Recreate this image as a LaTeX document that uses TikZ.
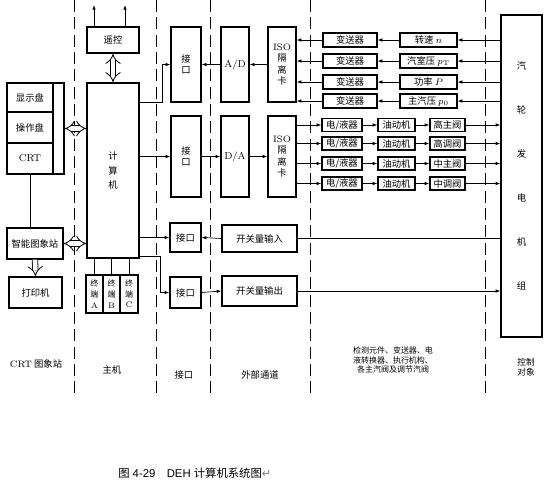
\documentclass[tikz,border=0pt]{standalone}
\usepackage{fontspec}
\setsansfont{Liberation Sans}
\newfontfamily\cjk{Noto Sans CJK SC}
\newfontfamily\symfont{DejaVu Sans}
\usetikzlibrary{arrows.meta,calc}

\tikzset{
  blk/.style={draw, line width=1pt, inner sep=0pt, align=center, font=\cjk\fontsize{7}{8.5}\selectfont},
  sz/.style 2 args={minimum width=#1*0.75pt, minimum height=#2*0.75pt},
  lnk/.style={line width=0.5pt, -{Latex[length=3.5pt,width=2.6pt]}},
  wire/.style={line width=0.5pt},
  zone/.style={line width=0.5pt, dash pattern=on 9pt off 4pt},
  dbl/.style={double, double distance=3.5pt, line width=0.6pt, {Implies}-{Implies}},
  lbl/.style={font=\cjk\fontsize{7}{8.5}\selectfont, align=center},
}

\begin{document}
\begin{tikzpicture}[x=0.75pt, y=-0.75pt]
\useasboundingbox (0,0) rectangle (544,480);

% zone borders
\foreach \x in {74,156,210,310,485}
  \draw[zone] (\x,0) -- (\x,397);

% CRT station
\node[blk, sz={57}{91}] (panel) at (35.5,128.5) {};
\node[blk, sz={46}{29}] (dsp) at (30,97.5) {显示盘};
\node[blk, sz={46}{31}] (opr) at (30,127.5) {操作盘};
\node[blk, sz={46}{31}, font=\rmfamily\fontsize{7.5}{9}\selectfont] (crt) at (30,158.5) {CRT};
\node[blk, sz={56}{31}] (station) at (35,243.5) {智能图象站};
\node[blk, sz={53}{31}] (printer) at (35.5,292.5) {打印机};

% host
\node[blk, sz={52}{26}] (remote) at (113,40) {遥控};
\node[blk, sz={52}{175}, font=\cjk\fontsize{7}{11}\selectfont] (comp) at (113,170.5) {计\\算\\机};
\node[blk, sz={17}{38}, font=\cjk\fontsize{6}{8}\selectfont] (termA) at (94.5,294) {终\\端\\{\rmfamily A}};
\node[blk, sz={17}{38}, font=\cjk\fontsize{6}{8}\selectfont] (termB) at (111.5,294) {终\\端\\{\rmfamily B}};
\node[blk, sz={18}{38}, font=\cjk\fontsize{6}{8}\selectfont] (termC) at (129,294) {终\\端\\{\rmfamily C}};

% interfaces
\node[blk, sz={30}{75}] (ifA) at (186,64.5) {接\\口};
\node[blk, sz={30}{81}] (ifB) at (186,156.5) {接\\口};
\node[blk, sz={31}{29}] (ifC) at (185.5,237.5) {接口};
\node[blk, sz={31}{31}] (ifD) at (185.5,292.5) {接口};

% external channels
\node[blk, sz={28}{75}, font=\rmfamily\fontsize{7.5}{9}\selectfont] (ad) at (235,64.5) {A/D};
\node[blk, sz={28}{81}, font=\rmfamily\fontsize{7.5}{9}\selectfont] (da) at (235,156.5) {D/A};
\node[blk, sz={28}{75}, font=\cjk\fontsize{7}{8.5}\selectfont] (isoA) at (282,64.5) {{\rmfamily ISO}\\隔\\离\\卡};
\node[blk, sz={28}{81}, font=\cjk\fontsize{7}{8.5}\selectfont] (isoB) at (282,156.5) {{\rmfamily ISO}\\隔\\离\\卡};
\node[blk, sz={75}{27}] (swin) at (259.5,238.5) {开关量输入};
\node[blk, sz={75}{30}] (swout) at (259.5,291) {开关量输出};

% transmitters and sensors
\node[blk, sz={54}{14}] (tx1) at (350,40) {变送器};
\node[blk, sz={54}{14}] (tx2) at (350,61) {变送器};
\node[blk, sz={54}{14}] (tx3) at (350,82) {变送器};
\node[blk, sz={54}{14}] (tx4) at (350,101) {变送器};
\node[blk, sz={57}{14}] (sn1) at (428.5,40) {转速 $n$};
\node[blk, sz={57}{14}] (sn2) at (428.5,61) {汽室压 $p_{\mathrm{T}}$};
\node[blk, sz={57}{14}] (sn3) at (428.5,82) {功率 $P$};
\node[blk, sz={57}{14}] (sn4) at (428.5,101) {主汽压 $p_0$};

% actuators
\node[blk, sz={40}{13}] (ev1) at (342,125) {电/液器};
\node[blk, sz={40}{13}] (ev2) at (342,143.5) {电/液器};
\node[blk, sz={40}{13}] (ev3) at (342,163.5) {电/液器};
\node[blk, sz={40}{13}] (ev4) at (342,183.5) {电/液器};
\node[blk, sz={37}{13}] (om1) at (396.5,125) {油动机};
\node[blk, sz={37}{13}] (om2) at (396.5,143.5) {油动机};
\node[blk, sz={37}{13}] (om3) at (396.5,163.5) {油动机};
\node[blk, sz={37}{13}] (om4) at (396.5,183.5) {油动机};
\node[blk, sz={35}{13}] (vl1) at (447.5,125) {高主阀};
\node[blk, sz={35}{13}] (vl2) at (447.5,143.5) {高调阀};
\node[blk, sz={35}{13}] (vl3) at (447.5,163.5) {中主阀};
\node[blk, sz={35}{13}] (vl4) at (447.5,183.5) {中调阀};

% plant
\node[blk, sz={41}{322}, font=\cjk\fontsize{7}{33}\selectfont] (turb) at (521.5,176) {汽\\轮\\发\\电\\机\\组};

% host connections
\coordinate (rc1) at (94,5);
\coordinate (rc2) at (125,5);
\draw[lnk] (remote.north -| rc1) -- (rc1);
\draw[lnk] (remote.north -| rc2) -- (rc2);
\draw[dbl] (remote) -- (comp);
\draw[dbl] (panel.east) -- (panel.east -| comp.west);
\draw[dbl] (station.east) -- (station.east -| comp.west);
\draw[wire] (crt.south) -- (crt.south |- station.north);
\draw[double, double distance=3.5pt, line width=0.6pt, -{Implies}] (station.south) -- (printer.north);
\foreach \t in {termA,termB,termC}
  \draw[wire] (\t.north |- comp.south) -- (\t.north);

% computer to interfaces
\draw[lnk] (comp.east |- ifA.south) -- ++(23,0) |- (ifA.west);
\draw[lnk] (ifB.west -| comp.east) -- (ifB.west);
\draw[lnk] (ifC.west -| comp.east) -- (ifC.west);
\draw[lnk] ([yshift=1.5pt]comp.south east) -- ++(21,0) |- (ifD.west);

% channels
\draw[lnk] (ad.west) -- (ifA.east);
\draw[lnk] (isoA.west) -- (ad.east);
\draw[lnk] (ifB.east) -- (da.west);
\draw[lnk] (da.east) -- (isoB.west);
\draw[lnk] (swin.west) -- (ifC.east);
\draw[lnk] (ifD.east) -- (swout.west);
\draw[wire] (swin.east) -- (swin.east -| turb.west);
\draw[lnk] (swout.east) -- (swout.east -| turb.west);

% measurement rows
\foreach \i in {1,2,3,4} {
  \draw[lnk] (sn\i.east -| turb.west) -- (sn\i.east);
  \draw[lnk] (sn\i.west) -- (tx\i.east);
  \draw[lnk] (tx\i.west) -- (tx\i.west -| isoA.east);
}

% actuator rows
\foreach \i in {1,2,3,4} {
  \draw[lnk] (ev\i.west -| isoB.east) -- (ev\i.west);
  \draw[lnk] (ev\i.east) -- (om\i.west);
  \draw[lnk] (om\i.east) -- (vl\i.west);
  \draw[lnk] (vl\i.east) -- (vl\i.east -| turb.west);
}

% zone labels
\node[lbl] (lcrt) at (36,364) {{\rmfamily CRT} 图象站};
\node[lbl] (lhost) at (112,370) {主机};
\node[lbl] (lif) at (184,375) {接口};
\node[lbl] (lext) at (260,375) {外部通道};
\node[lbl, font=\cjk\fontsize{6}{7}\selectfont] (lmeas) at (393,360) {检测元件、变送器、电\\液转换器、执行机构、\\各主汽阀及调节汽阀};
\node[lbl, font=\cjk\fontsize{6.5}{7.5}\selectfont] (lobj) at (526,367) {控制\\对象};

% caption
\node[anchor=west, inner sep=0pt, font=\sffamily\fontsize{8.5}{10}\selectfont] (cap) at (118,473)
  {{\cjk 图} 4-29\quad DEH {\cjk 计算机系统图}{\symfont\color{gray}↵}};
\end{tikzpicture}
\end{document}
